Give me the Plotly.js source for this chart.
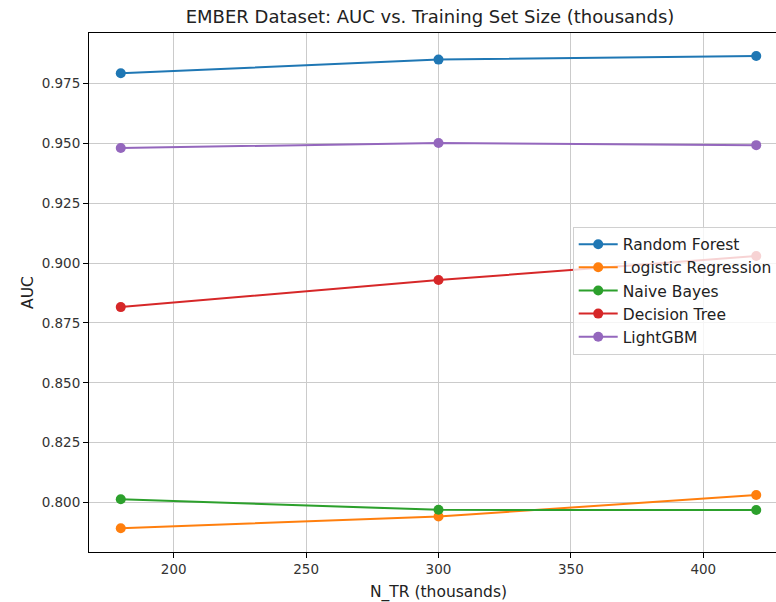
<!DOCTYPE html>
<html>
<head>
<meta charset="utf-8">
<script src="https://cdn.plot.ly/plotly-3.0.1.min.js"></script>
<style>html,body{margin:0;padding:0;overflow:hidden;background:#fff;}</style>
</head>
<body>
<div id="chart"></div>
<script>
const nTr = [180, 300, 420];
const seriesNames = ["Random Forest", "Logistic Regression", "Naive Bayes", "Decision Tree", "LightGBM"];
const randomForest = [0.9792, 0.9849, 0.9864];
const logisticRegression = [0.7893, 0.7942, 0.8032];
const naiveBayes = [0.8014, 0.7970, 0.7969];
const decisionTree = [0.8816, 0.8929, 0.9029];
const lightGBM = [0.9480, 0.9501, 0.9492];
const colors = ["#1f77b4", "#ff7f0e", "#2ca02c", "#d62728", "#9467bd"];
const allSeries = [randomForest, logisticRegression, naiveBayes, decisionTree, lightGBM];

const traces = allSeries.map((ys, i) => ({
  x: nTr, y: ys, name: seriesNames[i], type: "scatter", mode: "lines+markers",
  line: {color: colors[i], width: 2}, marker: {color: colors[i], size: 10}
}));

const axisCommon = {
  showline: true, linecolor: "#000", linewidth: 1, mirror: true,
  ticks: "outside", ticklen: 5, tickwidth: 1, tickcolor: "#000",
  showgrid: true, gridcolor: "#cbcbcb", gridwidth: 1, zeroline: false,
  tickfont: {family: "DejaVu Sans", size: 13.5, color: "#333"}
};

const layout = {
  width: 800, height: 602,
  margin: {l: 89, r: 12, t: 33, b: 50},
  paper_bgcolor: "#fff", plot_bgcolor: "#fff",
  font: {family: "DejaVu Sans", size: 13, color: "#222"},
  title: {text: "EMBER Dataset: AUC vs. Training Set Size (thousands)", x: 430/800, xanchor: "center", y: 0.972, yanchor: "middle", font: {family: "DejaVu Sans", size: 18, color: "#222"}},
  xaxis: Object.assign({}, axisCommon, {
    range: [168, 432], tickvals: [200, 250, 300, 350, 400],
    title: {text: "N_TR (thousands)", font: {family: "DejaVu Sans", size: 15.5, color: "#222"}, standoff: 10}
  }),
  yaxis: Object.assign({}, axisCommon, {
    range: [0.7794, 0.996], tickvals: [0.8, 0.825, 0.85, 0.875, 0.9, 0.925, 0.95, 0.975], tickformat: ".3f",
    title: {text: "AUC", font: {family: "DejaVu Sans", size: 15.5, color: "#222"}, standoff: 4}
  }),
  showlegend: true,
  legend: {
    x: 0.692, xanchor: "left", y: 0.627, yanchor: "top",
    bgcolor: "rgba(255,255,255,0.8)", bordercolor: "#d0d0d0", borderwidth: 1,
    font: {family: "DejaVu Sans", size: 15.5, color: "#222"}, tracegroupgap: 0, itemwidth: 39
  }
};

Plotly.newPlot("chart", traces, layout, {displayModeBar: false, staticPlot: true});
</script>
</body>
</html>
